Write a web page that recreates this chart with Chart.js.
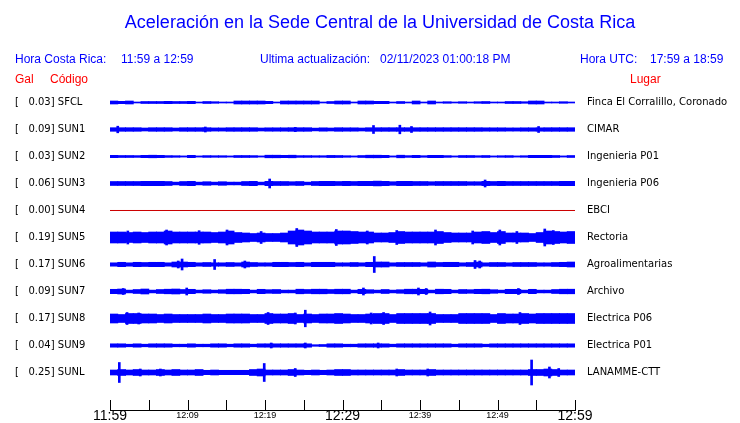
<!DOCTYPE html>
<html>
<head>
<meta charset="utf-8">
<script src="https://cdn.jsdelivr.net/npm/chart.js@4.4.0/dist/chart.umd.min.js"></script>
<style>
  html, body { margin: 0; padding: 0; background: #fff; }
  canvas { display: block; }
</style>
</head>
<body>
<canvas id="acelChart" width="740" height="423"></canvas>
<script>
// stations, top to bottom
const codes = ['SFCL', 'SUN1', 'SUN2', 'SUN3', 'SUN4', 'SUN5', 'SUN6', 'SUN7', 'SUN8', 'SUN9', 'SUNL'];
const gal = [0.03, 0.09, 0.03, 0.06, 0.00, 0.19, 0.17, 0.09, 0.17, 0.04, 0.25];
const places = ['Finca El Corralillo, Coronado', 'CIMAR', 'Ingenieria P01', 'Ingenieria P06', 'EBCI',
  'Rectoria', 'Agroalimentarias', 'Archivo', 'Electrica P06', 'Electrica P01', 'LANAMME-CTT'];

// time axis (minutes after 11:59)
const minuteStart = 0;
const minuteEnd = 60;
const tickStep = 5;
const timeLabels = ['11:59', '12:09', '12:19', '12:29', '12:39', '12:49', '12:59'];

// trace half-amplitude per 1-minute bin (27 units = spacing between traces)
const envSFCL = [1.5,1.2,1.5,0.5,1,1,1,1.2,1,1, 1.2,0.5,1,0.8,0.5,0.5,1.5,1.5,1.5,1.5, 1.2,0.5,1.5,1.5,1.5,1.5,1.5,0.5,1,1.5,
  1.5,0.5,1.5,1.5,1.2,1.2,0.5,1,0.5,1.5, 0.5,1.5,0.5,0.8,0.5,0.8,0.5,0.8,1,0.5, 0.5,1,1,0.8,1.5,1.5,0.5,0.5,0.8,0.5];
const envSUN1 = [1.8,1.8,1.8,1.8,1.5,1.8,1.8,1.8,1.5,1.8, 1.8,1.8,1.8,1.6,1.6,1.8,1.8,1.8,1.8,1.5, 1.7,1.7,1.7,1.8,1.8,1.8,1.4,1.7,1.5,1.8,
  1.7,1.7,1.5,1.8,1.8,1.8,1.8,1.8,1.8,1.8, 1.8,1.8,1.8,1.8,1.8,1.8,1.8,1.8,1.7,1.7, 1.7,1.6,1.6,1.7,1.7,1.7,1.8,1.8,1.8,1.8];
const envSUN2 = [1.2,1.0,1.0,0.9,1.2,1.3,1.2,0.9,0.8,0.6, 1.2,0.6,0.9,0.8,0.8,0.6,1.0,1.0,0.9,0.6, 1.3,1.3,1.2,1.3,0.9,0.9,0.8,0.8,1.1,1.0,
  0.8,0.6,1.0,1.3,1.3,1.2,0.6,1.3,0.9,1.2, 0.8,1.2,1.2,0.9,0.6,1.0,1.0,0.8,1.0,0.6, 0.8,0.9,0.6,0.8,1.2,1.2,1.2,1.0,0.6,1.0];
const envSUN3 = [2.0,2.0,2.0,2.0,2.2,2.2,2.2,2.0,1.4,2.0, 2.2,1.4,1.8,1.4,1.8,1.4,1.4,2.0,2.2,1.4, 2.2,2.0,2.0,1.8,2.0,1.4,2.0,2.2,2.2,2.0,
  2.2,2.0,2.2,2.2,2.4,2.2,1.8,2.2,2.2,2.0, 2.0,1.8,2.0,2.0,2.0,2.0,1.8,1.8,2.2,2.0, 2.2,2.0,2.0,2.0,2.0,2.0,2.0,2.0,2.2,2.2];
const envSUN4 = [0,0,0,0,0,0,0,0,0,0, 0,0,0,0,0,0,0,0,0,0, 0,0,0,0,0,0,0,0,0,0,
  0,0,0,0,0,0,0,0,0,0, 0,0,0,0,0,0,0,0,0,0, 0,0,0,0,0,0,0,0,0,0];
const envSUN5 = [5.5,5.5,5,5.5,5,5.5,5.5,6.5,5.5,5.5, 5.5,5.5,5.5,5,5.5,6.5,5,4.5,4,4.5, 4,4,4.5,6.5,7.5,6.5,5.5,5.5,5.5,6.5,
  6.5,6,5.5,5.5,4.5,4.5,5,6,5.5,5.5, 5.5,5.5,6,5,4.5,4.5,4.5,5.5,6,5, 6,4.5,4.5,4.5,4,5,6.5,6,5.5,6];
const envSUN6 = [1.7,2.2,1.7,2.2,2.0,2.2,2.2,1.7,2.5,2.5, 2.2,1.7,2.0,1.7,1.7,2.0,1.7,2.5,2.0,1.7, 1.7,2.2,2.2,2.0,2.2,1.7,2.2,2.2,2.2,1.7,
  1.7,2.0,1.7,2.2,2.5,2.5,1.7,2.0,2.0,2.0, 1.7,2.5,2.0,2.2,2.2,1.7,2.0,2.5,1.7,2.0, 2.0,1.7,2.0,2.0,2.0,1.7,1.7,2.0,2.2,2.5];
const envSUN7 = [2.2,2.5,1.4,2.0,2.5,1.4,2.0,2.3,2.5,2.0, 2.2,1.4,1.8,1.4,1.8,2.3,2.3,2.2,1.4,2.2, 1.8,2.0,1.4,1.4,2.3,2.0,2.3,2.3,2.0,2.3,
  2.3,1.4,2.2,1.8,1.4,2.0,1.4,1.8,2.3,2.3, 2.2,1.4,2.3,2.2,1.4,2.0,1.8,2.2,2.3,1.8, 1.4,2.2,2.2,1.4,2.2,1.4,1.4,2.0,2.3,2.3];
const envSUN8 = [4.5,4,5,5,4.5,4.5,4,4.5,4,4, 4,4,4.5,4,4,4.5,4.5,4.5,4,4, 5,4.5,4.5,5,4,4.5,4,4.5,4.5,5,
  4.5,4,4,4.5,5,5,4,5,5,5, 5,5,4,4,4,5,5,5,5,4, 5,4.5,4.5,5,4.5,5,5,5,5,5];
const envSUN9 = [1.7,1.7,1.3,1.7,1.3,1.7,1.7,1.7,1.3,1.3, 1.7,1.3,1.3,1.7,1.7,1.3,1.7,1.7,1.3,1.7, 1.7,1.7,1.7,1.7,1.7,1.7,0.8,1.0,1.7,1.7,
  1.3,1.3,1.7,1.7,1.7,1.7,1.3,1.7,1.7,1.7, 1.7,1.7,1.7,1.7,1.3,1.7,1.7,1.7,1.3,1.7, 1.7,1.7,1.7,1.7,1.7,1.7,1.7,1.7,1.7,1.7];
const envSUNL = [2.5,3,2.5,3,2.5,2.5,3,2.5,3,2.5, 2.5,3,2.2,2.5,2.2,2.2,2.2,2.2,3,3.5, 2.5,2.5,2.5,3,2.5,2.2,2.5,2.2,2.5,3,
  3,2.5,2.5,2.5,2.5,2.5,2.5,3,2.5,2.5, 2.5,3,2.5,2.5,2.5,2.5,2.5,2.5,2.5,2.5, 2.5,2.5,2.5,2.5,3,3,3.5,3,2.5,2.5];

// single peaks: [minute, half-amplitude]
const peaksSFCL = [];
const peaksSUN1 = [[1.0, 3.3], [12.3, 2.5], [23.9, 2.2], [34.0, 4], [37.4, 4.3], [38.9, 3], [55.3, 3]];
const peaksSUN2 = [];
const peaksSUN3 = [[20.6, 4.5], [48.4, 3.5]];
const peaksSUN4 = [];
const peaksSUN5 = [[2.3, 6.5], [7.3, 7.5], [11.5, 6.8], [15.1, 7.5], [19.5, 6], [24.1, 9], [29.2, 8], [33.2, 6.5],
  [37, 7], [42, 7.5], [46.8, 6.5], [50.3, 7.5], [52.5, 6], [56.1, 8.5], [57.2, 7]];
const peaksSUN6 = [[8.8, 3.5], [9.3, 5.5], [13.5, 5], [17.4, 3.5], [34.1, 8], [47.1, 4], [47.7, 3.5]];
const peaksSUN7 = [[1.7, 3], [9.9, 3.5], [32.7, 3.5], [39.8, 3.5], [40.8, 3], [52.7, 3]];
const peaksSUN8 = [[2.2, 6], [3.7, 5.5], [20.4, 6], [23.9, 5.5], [25.2, 8.3], [33.7, 5.5], [35.3, 6], [41.3, 6.5], [52.9, 6]];
const peaksSUN9 = [[20.8, 2.5], [25.2, 2.5], [34.6, 2.5]];
const peaksSUNL = [[1.2, 10], [3.9, 3.5], [6.5, 3.5], [19.9, 9], [23.9, 4], [37, 3.5], [41, 3.5], [54.4, 12.5], [56.7, 5.5], [57.9, 4]];

const envelopes = [envSFCL, envSUN1, envSUN2, envSUN3, envSUN4, envSUN5, envSUN6, envSUN7, envSUN8, envSUN9, envSUNL];
const peaks = [peaksSFCL, peaksSUN1, peaksSUN2, peaksSUN3, peaksSUN4, peaksSUN5, peaksSUN6, peaksSUN7, peaksSUN8, peaksSUN9, peaksSUNL];
const TRACE_SPAN = 27;

const BLUE = '#0000ff';
const RED = '#ff0000';
const traceColor = (i) => (gal[i] === 0 ? '#cc0000' : BLUE);

const datasets = [];
codes.forEach((code, i) => {
    datasets.push({
        label: code,
        data: envelopes[i].map((a, m) => ({ x: m + 0.5, y: [i - a / TRACE_SPAN, i + a / TRACE_SPAN] })),
        backgroundColor: traceColor(i),
        borderWidth: 0,
        barThickness: 8,
        grouped: false,
    });
    datasets.push({
        label: code + ' picos',
        data: peaks[i].map(([t, a]) => ({ x: t, y: [i - a / TRACE_SPAN, i + a / TRACE_SPAN] })),
        backgroundColor: traceColor(i),
        borderWidth: 0,
        barThickness: 2,
        grouped: false,
    });
    datasets.push({
        type: 'line',
        label: code + ' base',
        data: [{ x: minuteStart, y: i }, { x: minuteEnd, y: i }],
        borderColor: traceColor(i),
        borderWidth: 1,
        pointRadius: 0,
    });
});

const rowTicks = (scale) => { scale.ticks = codes.map((c, i) => ({ value: i })); };

const headerText = {
    id: 'headerText',
    afterDraw(chart) {
        const { ctx } = chart;
        ctx.save();
        ctx.textBaseline = 'middle';
        ctx.textAlign = 'center';
        ctx.fillStyle = BLUE;
        ctx.font = '18px "Liberation Sans", Arial, sans-serif';
        ctx.fillText('Aceleración en la Sede Central de la Universidad de Costa Rica', 380, 23);
        ctx.textAlign = 'left';
        ctx.font = '12px "Liberation Sans", Arial, sans-serif';
        ctx.fillText('Hora Costa Rica:', 15, 60);
        ctx.fillText('11:59 a 12:59', 121, 60);
        ctx.fillText('Ultima actualización:', 260, 60);
        ctx.fillText('02/11/2023 01:00:18 PM', 380, 60);
        ctx.fillText('Hora UTC:', 580, 60);
        ctx.fillText('17:59 a 18:59', 650, 60);
        ctx.fillStyle = RED;
        ctx.fillText('Gal', 15, 80);
        ctx.fillText('Código', 50, 80);
        ctx.fillText('Lugar', 630, 80);

        // tick marks pointing up from the time axis
        const x = chart.scales.x;
        ctx.strokeStyle = '#000';
        ctx.lineWidth = 1;
        ctx.beginPath();
        x.ticks.forEach((t) => {
            const px = Math.round(x.getPixelForValue(t.value)) + 0.5;
            ctx.moveTo(px, x.top);
            ctx.lineTo(px, x.top - 10);
        });
        ctx.stroke();
        ctx.restore();
    },
};

// keep the row labels from pushing the plot area around
const noVertPadding = (width) => (s) => { s.width = width; s.paddingTop = 0; s.paddingBottom = 0; };

const ctx = document.getElementById('acelChart').getContext('2d');
new Chart(ctx, {
    type: 'bar',
    data: { datasets },
    options: {
        responsive: false,
        animation: false,
        layout: { padding: { left: 15, top: 89, right: 0, bottom: 0 } },
        plugins: { legend: { display: false }, tooltip: { enabled: false }, title: { display: false } },
        scales: {
            x: {
                type: 'linear',
                min: minuteStart,
                max: minuteEnd,
                offset: false,
                grid: { display: false, drawTicks: false },
                border: { display: true, color: '#000', width: 1 },
                afterFit: (s) => { s.height = 13; },
                ticks: {
                    stepSize: tickStep,
                    autoSkip: false,
                    maxRotation: 0,
                    padding: 0,
                    color: '#000',
                    callback: (v) => (v % 10 === 0 ? timeLabels[v / 10] : ''),
                    font: (c) => (c.tick && c.tick.value % 30 === 0
                        ? { family: '"Liberation Sans", Arial, sans-serif', size: 14, lineHeight: 0.9 }
                        : { family: '"Liberation Sans", Arial, sans-serif', size: 9, lineHeight: 1.2 }),
                },
            },
            y: {
                type: 'linear',
                position: 'left',
                reverse: true,
                min: -0.5,
                max: 11.389,
                grid: { display: false, drawTicks: false },
                border: { display: false },
                afterBuildTicks: rowTicks,
                afterFit: noVertPadding(95),
                ticks: {
                    autoSkip: false,
                    crossAlign: 'far',
                    color: '#000',
                    font: { family: '"DejaVu Sans", sans-serif', size: 10 },
                    callback: (v, i) => '[   ' + gal[i].toFixed(2) + '] ' + codes[i],
                },
            },
            y2: {
                type: 'linear',
                position: 'right',
                reverse: true,
                min: -0.5,
                max: 11.389,
                grid: { display: false, drawTicks: false },
                border: { display: false },
                afterBuildTicks: rowTicks,
                afterFit: noVertPadding(165),
                ticks: {
                    autoSkip: false,
                    padding: 12,
                    color: '#000',
                    font: { family: '"DejaVu Sans", sans-serif', size: 10 },
                    callback: (v, i) => places[i],
                },
            },
        },
    },
    plugins: [headerText],
});
</script>
</body>
</html>
